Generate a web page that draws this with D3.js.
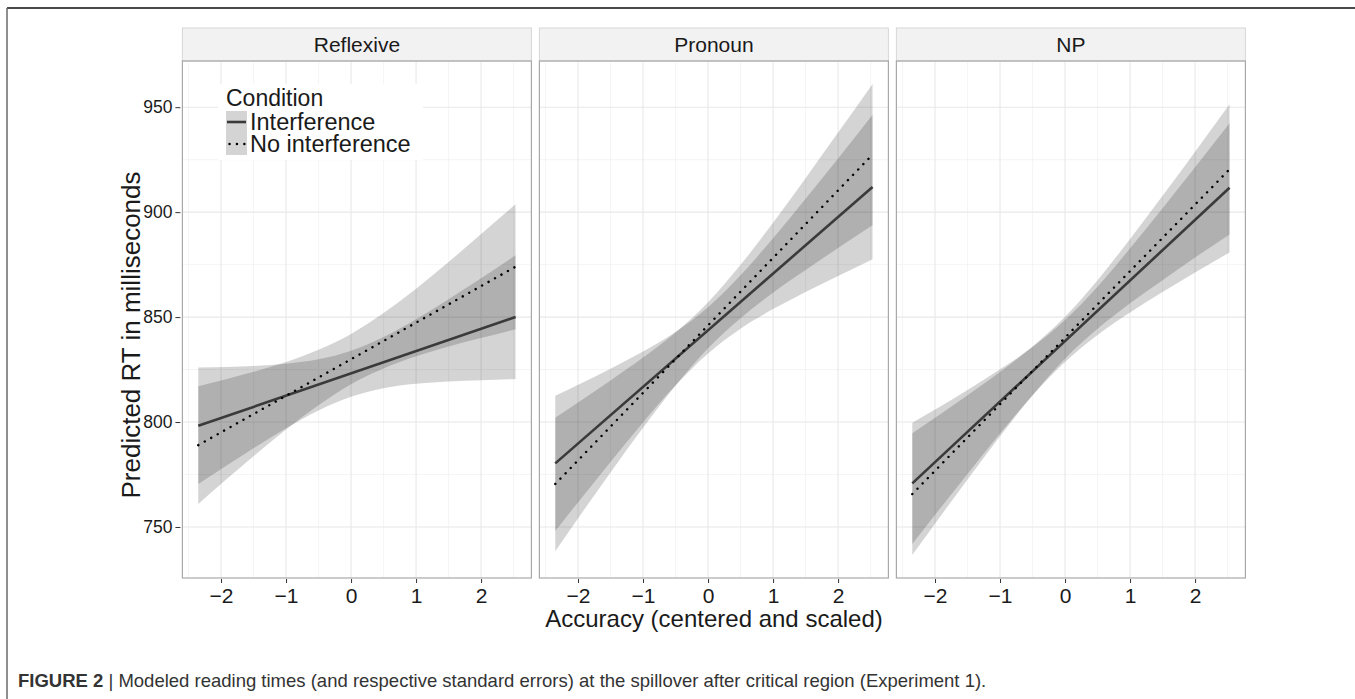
<!DOCTYPE html>
<html>
<head>
<meta charset="utf-8">
<script src="https://cdn.jsdelivr.net/npm/d3@7"></script>
<style>
  html, body { margin: 0; padding: 0; background: #fff; }
  svg { display: block; font-family: "Liberation Sans", Arial, Helvetica, sans-serif; }
</style>
</head>
<body>
<svg id="chart" width="1355" height="699"></svg>
<script>
// ---------------- data ----------------
const panels = ["Reflexive", "Pronoun", "NP"];
const conditions = ["Interference", "No interference"];
const xTicks = [-2, -1, 0, 1, 2];
const yTicks = [750, 800, 850, 900, 950];
const fitX = [-2.35, 2.53];
const bandX = [-2.35, -1.5, -1, -0.5, 0, 0.5, 1, 1.5, 2, 2.53];

// fitted lines (endpoints)
const reflexiveInterfFit = [798.2, 850.0];
const reflexiveNoIntFit  = [789.0, 874.0];
const pronounInterfFit   = [780.3, 912.0];
const pronounNoIntFit    = [770.5, 927.4];
const npInterfFit        = [770.8, 911.6];
const npNoIntFit         = [765.7, 920.4];

// standard-error bands (lower / upper) at bandX
const reflexiveInterfLo = [770.5, 787.5, 797.0, 805.5, 812.0, 816.1, 818.2, 819.3, 819.9, 820.5];
const reflexiveInterfHi = [826.0, 826.7, 827.8, 829.9, 834.0, 840.5, 849.0, 858.5, 868.5, 879.5];
const reflexiveNoIntLo  = [761.0, 783.7, 796.4, 808.0, 818.0, 825.5, 831.3, 836.0, 840.0, 844.2];
const reflexiveNoIntHi  = [817.0, 823.9, 828.6, 834.4, 842.0, 851.9, 863.5, 876.2, 889.6, 903.8];
const pronounInterfLo   = [748.1, 781.0, 799.8, 817.5, 832.7, 844.5, 853.8, 862.0, 869.6, 877.6];
const pronounInterfHi   = [812.5, 825.4, 833.6, 842.9, 854.7, 869.9, 887.6, 906.4, 925.6, 946.4];
const pronounNoIntLo    = [738.5, 776.0, 797.3, 817.3, 835.1, 849.5, 861.6, 872.4, 882.9, 893.7];
const pronounNoIntHi    = [802.0, 819.8, 830.7, 842.7, 857.1, 874.9, 895.0, 916.2, 937.9, 961.1];
const npInterfLo        = [741.9, 775.3, 794.5, 812.7, 828.6, 841.5, 852.2, 861.9, 871.2, 880.8];
const npInterfHi        = [799.7, 815.3, 825.1, 835.7, 848.6, 864.5, 882.8, 901.9, 921.4, 942.4];
const npNoIntLo         = [736.7, 772.6, 793.2, 812.8, 830.2, 844.4, 856.6, 867.6, 878.4, 889.4];
const npNoIntHi         = [794.6, 812.8, 823.8, 836.0, 850.2, 867.6, 887.2, 907.8, 928.8, 951.4];

const fits = {
  Reflexive: [reflexiveInterfFit, reflexiveNoIntFit],
  Pronoun:   [pronounInterfFit, pronounNoIntFit],
  NP:        [npInterfFit, npNoIntFit]
};
const bands = {
  Reflexive: [[reflexiveInterfLo, reflexiveInterfHi], [reflexiveNoIntLo, reflexiveNoIntHi]],
  Pronoun:   [[pronounInterfLo, pronounInterfHi], [pronounNoIntLo, pronounNoIntHi]],
  NP:        [[npInterfLo, npInterfHi], [npNoIntLo, npNoIntHi]]
};

// ---------------- layout ----------------
const svg = d3.select("#chart");
const panelW = 349, gap = 8, firstX = 182.4;
const stripTop = 28, panelTop = 61, panelBottom = 578;

const x = d3.scaleLinear().domain([-2.594, 2.774]).range([0, panelW]);
const y = d3.scaleLinear().domain([725.7, 972]).range([panelBottom, panelTop]);
const fmt = d => (d < 0 ? "\u2212" + Math.abs(d) : String(d));

// figure frame
svg.append("line").attr("x1", 7).attr("x2", 1355).attr("y1", 8).attr("y2", 8)
  .attr("stroke", "#4a4a4a").attr("stroke-width", 2);
svg.append("line").attr("x1", 7).attr("x2", 7).attr("y1", 8).attr("y2", 699)
  .attr("stroke", "#6a6a6a").attr("stroke-width", 1.5);

const lineStyles = [
  { stroke: "#3a3a3a", width: 2.6, dash: null, cap: "butt" },
  { stroke: "#000", width: 2.4, dash: "0.1 7.3", cap: "round" }
];

panels.forEach((p, i) => {
  const g = svg.append("g").attr("transform", `translate(${firstX + i * (panelW + gap)},0)`);

  // strip
  g.append("rect").attr("x", 0).attr("y", stripTop).attr("width", panelW).attr("height", panelTop - stripTop)
    .attr("fill", "#f2f2f2").attr("stroke", "#d6d6d6").attr("stroke-width", 1);
  g.append("text").attr("x", panelW / 2).attr("y", stripTop + 24).attr("text-anchor", "middle")
    .attr("font-size", 21).attr("fill", "#1a1a1a").text(p);

  // grid
  const minorX = d3.range(-2.5, 2.6, 1);
  const minorY = [775, 825, 875, 925];
  g.selectAll(".mx").data(minorX).join("line")
    .attr("x1", d => x(d)).attr("x2", d => x(d)).attr("y1", panelTop).attr("y2", panelBottom)
    .attr("stroke", "#f3f3f3").attr("stroke-width", 0.8);
  g.selectAll(".my").data(minorY).join("line")
    .attr("x1", 0).attr("x2", panelW).attr("y1", d => y(d)).attr("y2", d => y(d))
    .attr("stroke", "#f3f3f3").attr("stroke-width", 0.8);
  g.selectAll(".gx").data(xTicks).join("line")
    .attr("x1", d => x(d)).attr("x2", d => x(d)).attr("y1", panelTop).attr("y2", panelBottom)
    .attr("stroke", "#e8e8e8").attr("stroke-width", 1.1);
  g.selectAll(".gy").data(yTicks).join("line")
    .attr("x1", 0).attr("x2", panelW).attr("y1", d => y(d)).attr("y2", d => y(d))
    .attr("stroke", "#e8e8e8").attr("stroke-width", 1.1);

  // bands
  bands[p].forEach(([lo, hi]) => {
    const area = d3.area()
      .x((d, k) => x(bandX[k]))
      .y0((d, k) => y(lo[k]))
      .y1((d, k) => y(hi[k]))
      .curve(d3.curveMonotoneX);
    g.append("path").attr("d", area(bandX)).attr("fill", "#000").attr("fill-opacity", 0.17);
  });

  // lines
  fits[p].forEach((vals, c) => {
    const s = lineStyles[c];
    const line = d3.line().x((d, k) => x(fitX[k])).y(d => y(d));
    const path = g.append("path").attr("d", line(vals)).attr("fill", "none")
      .attr("stroke", s.stroke).attr("stroke-width", s.width).attr("stroke-linecap", s.cap);
    if (s.dash) path.attr("stroke-dasharray", s.dash);
  });

  // panel border
  g.append("rect").attr("x", 0).attr("y", panelTop).attr("width", panelW).attr("height", panelBottom - panelTop)
    .attr("fill", "none").attr("stroke", "#a8a8a8").attr("stroke-width", 1.2);

  // x axis
  const xa = g.append("g").attr("transform", `translate(0,${panelBottom + 1})`)
    .call(d3.axisBottom(x).tickValues(xTicks).tickFormat(fmt).tickSize(4).tickPadding(5));
  xa.select(".domain").remove();
  xa.selectAll(".tick line").attr("stroke", "#333");
  xa.selectAll(".tick text").attr("font-size", 21).attr("fill", "#1a1a1a")
    .attr("font-family", "'Liberation Sans', Arial, sans-serif");

  // y axis on first panel
  if (i === 0) {
    const ya = g.append("g").attr("transform", `translate(-2,0)`)
      .call(d3.axisLeft(y).tickValues(yTicks).tickSize(5).tickPadding(3));
    ya.select(".domain").remove();
    ya.selectAll(".tick line").attr("stroke", "#333");
    ya.selectAll(".tick text").attr("font-size", 17.5).attr("fill", "#1a1a1a")
      .attr("font-family", "'Liberation Sans', Arial, sans-serif");
  }
});

// axis titles
svg.append("text").attr("x", 714).attr("y", 627).attr("text-anchor", "middle")
  .attr("font-size", 24).attr("fill", "#1a1a1a").text("Accuracy (centered and scaled)");
svg.append("text").attr("transform", "translate(140,335) rotate(-90)").attr("text-anchor", "middle")
  .attr("font-size", 26).attr("fill", "#1a1a1a").text("Predicted RT in milliseconds");

// legend
const lg = svg.append("g");
lg.append("rect").attr("x", 218).attr("y", 84).attr("width", 205).attr("height", 76).attr("fill", "#fff");
lg.append("text").attr("x", 226).attr("y", 106).attr("font-size", 23).attr("fill", "#1a1a1a").text("Condition");
conditions.forEach((c, k) => {
  const top = 111 + k * 22;
  lg.append("rect").attr("x", 226).attr("y", top).attr("width", 21).attr("height", 22)
    .attr("fill", "#000").attr("fill-opacity", 0.17);
  const s = lineStyles[k];
  const ln = lg.append("line").attr("x1", 227).attr("x2", 246).attr("y1", top + 11).attr("y2", top + 11)
    .attr("stroke", s.stroke).attr("stroke-width", s.width).attr("stroke-linecap", s.cap);
  if (s.dash) ln.attr("stroke-dasharray", "0.1 7.3").attr("x1", 229.5);
  lg.append("text").attr("x", 250).attr("y", top + 19).attr("font-size", 23.5).attr("fill", "#1a1a1a").text(c);
});

// caption
const cap = svg.append("text").attr("x", 18).attr("y", 687).attr("font-size", 18.5).attr("fill", "#333")
  .attr("font-family", "'Liberation Sans Narrow', 'Arial Narrow', 'Liberation Sans', sans-serif");
cap.append("tspan").attr("font-weight", "bold").text("FIGURE 2");
cap.append("tspan").text(" | Modeled reading times (and respective standard errors) at the spillover after critical region (Experiment 1).");
</script>
</body>
</html>
